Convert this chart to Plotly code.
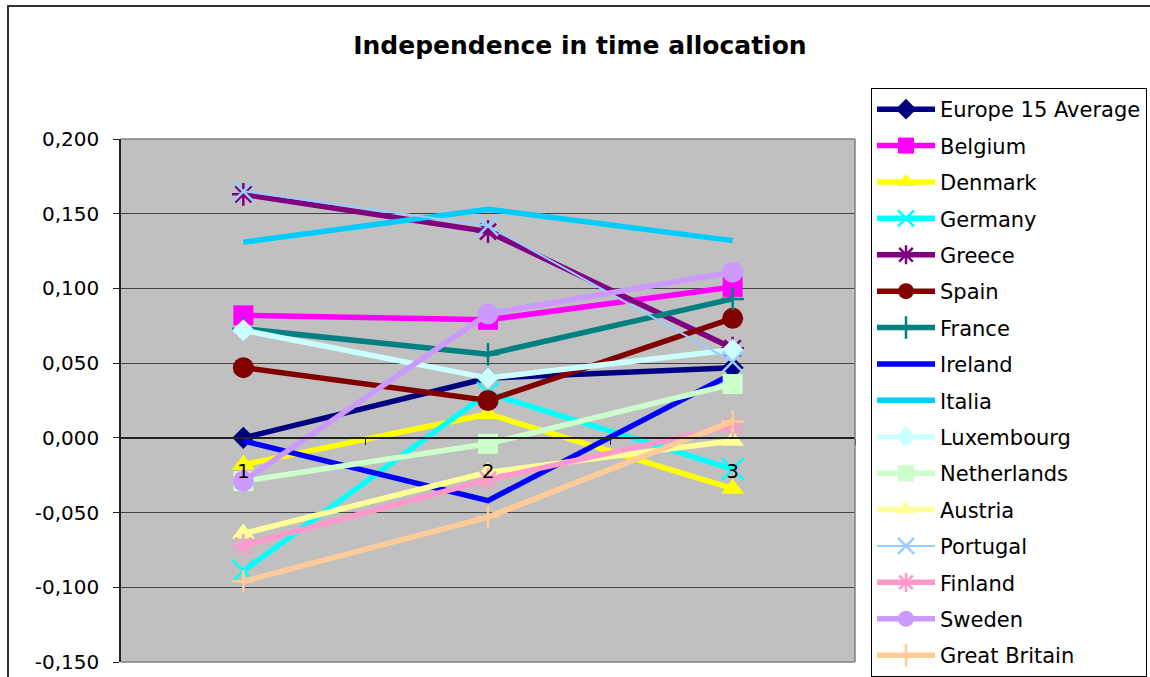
import plotly.graph_objects as go

# Survey waves on the category axis
categories = [1, 2, 3]
category_labels = ["1", "2", "3"]
y_ticks = [-0.15, -0.10, -0.05, 0.0, 0.05, 0.10, 0.15, 0.20]
y_tick_labels = ["-0,150", "-0,100", "-0,050", "0,000", "0,050", "0,100", "0,150", "0,200"]

# Index values per country for each wave
europe15 = [0.000, 0.040, 0.047]
belgium = [0.082, 0.079, 0.101]
denmark = [-0.018, 0.016, -0.034]
germany = [-0.089, 0.030, -0.021]
greece = [0.163, 0.138, 0.060]
spain = [0.047, 0.025, 0.080]
france = [0.073, 0.056, 0.093]
ireland = [-0.002, -0.042, 0.043]
italia = [0.131, 0.153, 0.132]
luxembourg = [0.072, 0.040, 0.059]
netherlands = [-0.029, -0.004, 0.036]
austria = [-0.064, -0.023, -0.002]
portugal = [0.165, 0.142, 0.051]
finland = [-0.072, -0.028, 0.008]
sweden = [-0.029, 0.083, 0.111]
great_britain = [-0.096, -0.053, 0.011]

# name, values, colour, marker symbol, marker size, line width
series = [
    ("Europe 15 Average", europe15, "#000080", "diamond", 17, 5.5),
    ("Belgium", belgium, "#FF00FF", "square", 20, 5.5),
    ("Denmark", denmark, "#FFFF00", "triangle-up", 20, 5.5),
    ("Germany", germany, "#00FFFF", "x-thin-open", 22, 5.5),
    ("Greece", greece, "#800080", "asterisk-open", 19, 5.5),
    ("Spain", spain, "#800000", "circle", 21, 5.5),
    ("France", france, "#008080", "cross-thin-open", 16, 5.5),
    ("Ireland", ireland, "#0000FF", None, 0, 5.5),
    ("Italia", italia, "#00CCFF", None, 0, 5.5),
    ("Luxembourg", luxembourg, "#CCFFFF", "diamond", 17, 5.5),
    ("Netherlands", netherlands, "#CCFFCC", "square", 20, 5.5),
    ("Austria", austria, "#FFFF99", "triangle-up", 20, 5.5),
    ("Portugal", portugal, "#99CCFF", "x-thin-open", 20, 2),
    ("Finland", finland, "#FF99CC", "asterisk-open", 19, 5.5),
    ("Sweden", sweden, "#CC99FF", "circle", 21, 5.5),
    ("Great Britain", great_britain, "#FFCC99", "cross-thin-open", 16, 5.5),
]

fig = go.Figure()
for name, vals, color, symbol, msize, lw in series:
    if symbol is None:
        mode = "lines"
        marker = dict()
    else:
        mode = "lines+markers"
        marker = dict(symbol=symbol, size=msize, color=color,
                      line=dict(color=color, width=2.5 if "open" in symbol else 0))
    fig.add_trace(go.Scatter(
        x=categories, y=vals, name=name, mode=mode, legendgroup=name,
        line=dict(color=color, width=lw), marker=marker,
    ))

# Page geometry: small outer margins, the plot itself is narrowed by the y domain
W, H = 1150, 677
M_TOP, M_BOT = 5, 5
inner_h = H - M_TOP - M_BOT


def py(pixel_y):
    """Paper y coordinate for a pixel row."""
    return (H - M_BOT - pixel_y) / inner_h


plot_top, plot_bottom = py(139), py(662)
zero_pos = plot_bottom + (plot_top - plot_bottom) * (0 - (-0.15)) / 0.35

frame = "#808080"
shapes = [
    dict(type="line", xref="x domain", yref="y domain", x0=0, x1=1, y0=1, y1=1, line=dict(color=frame, width=1.5)),
    dict(type="line", xref="x domain", yref="y domain", x0=1, x1=1, y0=0, y1=1, line=dict(color=frame, width=1.5)),
    dict(type="line", xref="x domain", yref="y domain", x0=0, x1=1, y0=0, y1=0, line=dict(color=frame, width=1.5)),
    # outer chart border
    dict(type="rect", xref="paper", yref="paper", x0=(8 - 121) / 734, x1=1.45, y0=-0.05, y1=py(6),
         line=dict(color="#333333", width=2), fillcolor="rgba(0,0,0,0)", layer="below"),
]

fig.update_layout(
    width=W, height=H,
    margin=dict(l=121, r=295, t=M_TOP, b=M_BOT, autoexpand=False),
    paper_bgcolor="white",
    plot_bgcolor="#C0C0C0",
    font=dict(family="DejaVu Sans", size=20, color="black"),
    title=dict(text="<b>Independence in time allocation</b>", x=0.5043, xref="container", xanchor="center",
               y=1 - 45 / H, yref="container", yanchor="middle",
               font=dict(family="DejaVu Sans", size=25, color="black")),
    xaxis=dict(range=[0.5, 3.5], tickmode="array", tickvals=categories, ticktext=category_labels,
               ticks="", showgrid=False, zeroline=False, showline=True, linecolor="#222222", linewidth=1.5,
               anchor="free", position=zero_pos, ticklabelstandoff=15,
               minor=dict(tickmode="array", tickvals=[1.5, 2.5, 3.5], ticks="outside", ticklen=6,
                          tickcolor="#222222", showgrid=False),
               tickfont=dict(size=20)),
    yaxis=dict(range=[-0.15, 0.2], domain=[plot_bottom, plot_top], tickmode="array",
               tickvals=y_ticks, ticktext=y_tick_labels,
               ticks="outside", ticklen=6, tickcolor="#222222", showgrid=True, gridcolor="#444444",
               gridwidth=1, zeroline=False, showline=True, linecolor="#222222", linewidth=1.5,
               ticklabelstandoff=10, tickfont=dict(size=20)),
    legend=dict(x=(871 - 121) / 734, y=py(88), xanchor="left", yanchor="top",
                bordercolor="black", borderwidth=1, bgcolor="white", tracegroupgap=6.1,
                itemwidth=58, font=dict(size=21), traceorder="grouped"),
    shapes=shapes,
)

fig.write_html("out.html")
